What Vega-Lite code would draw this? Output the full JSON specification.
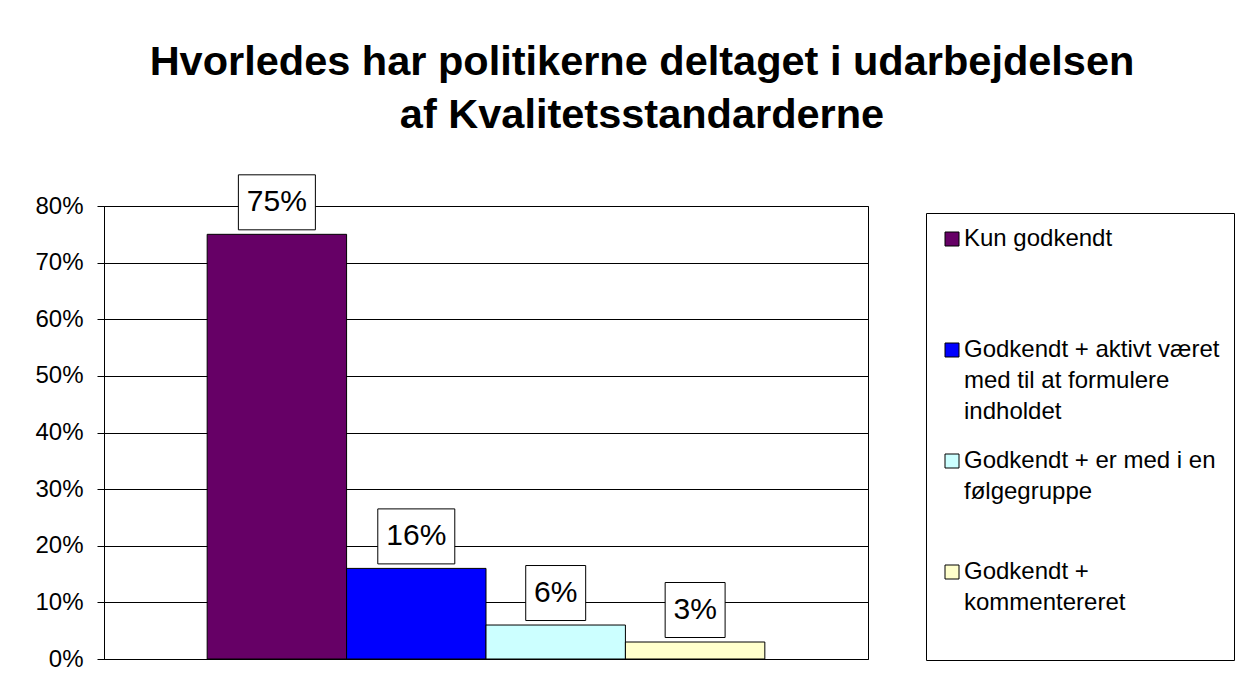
{
  "$schema": "https://vega.github.io/schema/vega-lite/v6.json",
  "width": 764,
  "height": 453,
  "autosize": "none",
  "padding": {"left": 104, "top": 206, "right": 392, "bottom": 34},
  "background": "white",
  "title": {
    "text": ["Hvorledes har politikerne deltaget i udarbejdelsen", "af Kvalitetsstandarderne"],
    "font": "Liberation Sans",
    "fontSize": 41.5,
    "fontWeight": "bold",
    "color": "black",
    "lineHeight": 53,
    "anchor": "middle",
    "dx": 156,
    "offset": 36
  },
  "data": {
    "values": [
      {"kategori": "Kun godkendt", "andel": 0.75},
      {"kategori": "Godkendt + aktivt været med til at formulere indholdet", "andel": 0.16},
      {"kategori": "Godkendt + er med i en følgegruppe", "andel": 0.06},
      {"kategori": "Godkendt + kommentereret", "andel": 0.03}
    ]
  },
  "layer": [
    {
      "mark": {"type": "bar", "stroke": "black", "strokeWidth": 1},
      "encoding": {
        "x": {"field": "kategori", "type": "nominal", "sort": null,
              "scale": {"paddingInner": 0, "paddingOuter": 0.74}, "axis": null},
        "y": {"field": "andel", "type": "quantitative",
              "scale": {"domain": [0, 0.8], "nice": false},
              "axis": {"values": [0, 0.1, 0.2, 0.3, 0.4, 0.5, 0.6, 0.7, 0.8], "format": ".0%", "title": null,
                       "grid": true, "gridColor": "black", "gridWidth": 1, "gridOpacity": 1,
                       "domainColor": "black", "tickColor": "black", "tickSize": 7,
                       "labelFont": "Liberation Sans", "labelFontSize": 24, "labelColor": "black", "labelPadding": 14}},
        "color": {
          "field": "kategori", "type": "nominal", "sort": null,
          "scale": {"range": ["#660066", "#0000FF", "#CCFFFF", "#FFFFCC"]},
          "legend": {
            "title": null,
            "orient": "none",
            "legendX": 822,
            "legendY": 7,
            "direction": "vertical",
            "fillColor": "white",
            "strokeColor": "black",
            "padding": 14,
            "rowPadding": 25,
            "symbolType": "square",
            "symbolSize": 196,
            "symbolStrokeColor": "black",
            "symbolStrokeWidth": 1,
            "symbolOpacity": 1,
            "labelFont": "Liberation Sans",
            "labelFontSize": 24,
            "labelColor": "black",
            "labelLimit": 500,
            "labelOffset": 0,
            "labelExpr": "datum.label == 'Godkendt + aktivt været med til at formulere indholdet' ? ['Godkendt + aktivt været', 'med til at formulere', 'indholdet'] : datum.label == 'Godkendt + er med i en følgegruppe' ? ['Godkendt + er med i en', 'følgegruppe', ''] : datum.label == 'Godkendt + kommentereret' ? ['Godkendt +', 'kommentereret', ''] : [datum.label, '', '']",
            "encode": {"labels": {"update": {"lineHeight": {"value": 31}}}}
          }
        }
      }
    },
    {
      "mark": {"type": "point", "filled": true, "fill": "white", "stroke": "black", "strokeWidth": 1, "opacity": 1, "yOffset": -32},
      "encoding": {
        "x": {"field": "kategori", "type": "nominal", "sort": null},
        "y": {"field": "andel", "type": "quantitative"},
        "shape": {"condition": {"test": "datum.andel >= 0.1", "value": "M-1.4,-1H1.4V1H-1.4Z"}, "value": "M-1.09,-1H1.09V1H-1.09Z"},
        "size": {"value": 3025}
      }
    },
    {
      "mark": {"type": "text", "font": "Liberation Sans", "fontSize": 30, "color": "black", "baseline": "middle", "align": "center", "dy": -32},
      "encoding": {
        "x": {"field": "kategori", "type": "nominal", "sort": null},
        "y": {"field": "andel", "type": "quantitative"},
        "text": {"field": "andel", "type": "quantitative", "format": ".0%"}
      }
    }
  ],
  "config": {
    "view": {"stroke": "black", "strokeWidth": 1}
  }
}
